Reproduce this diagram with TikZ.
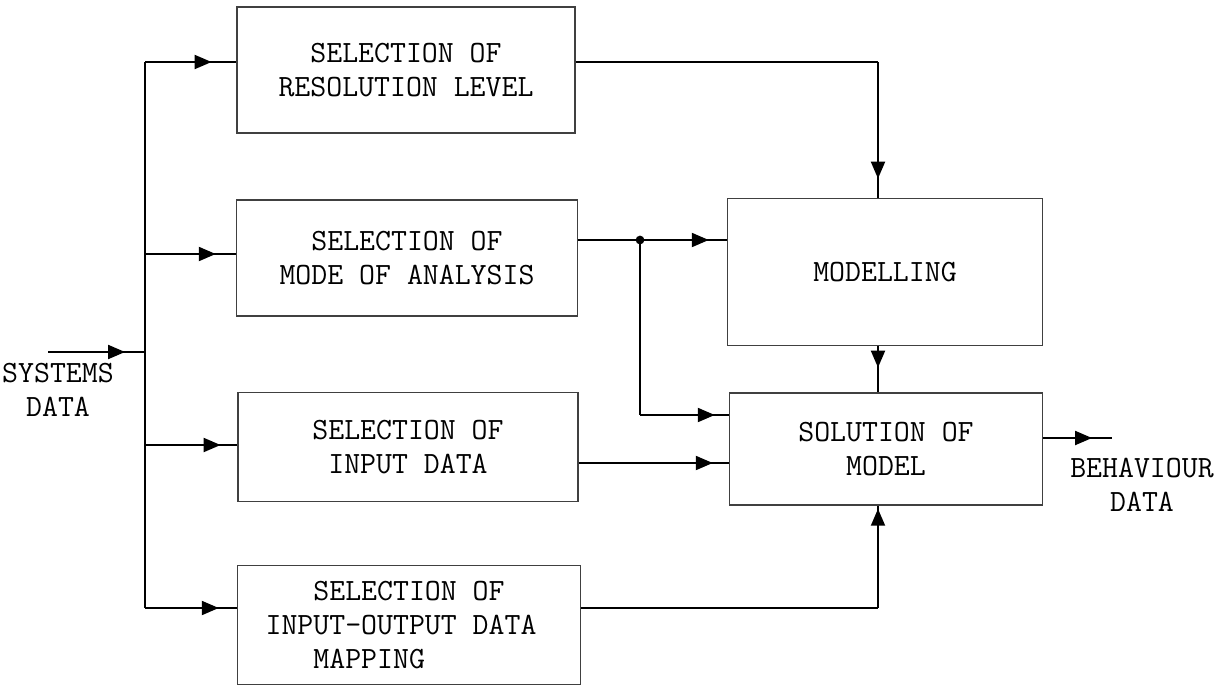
\documentclass[tikz,border=0pt]{standalone}
\usetikzlibrary{arrows.meta,decorations.markings}

\tikzset{
  block/.style={draw=black!75,line width=0.9pt,align=center},
  flow/.style={line width=1.2pt,postaction={decorate},
    decoration={markings,mark=at position #1 with
      {\arrow{Triangle[length=12pt,width=10pt]}}}},
  flow/.default=-0.5cm,
}

\begin{document}
\begin{tikzpicture}[x=0.025cm,y=-0.025cm,
    font=\ttfamily\fontsize{22}{24}\selectfont]
    \useasboundingbox (0,0) rectangle (1217,692);

    % selection blocks
    \node[block,minimum width=8.45cm,minimum height=3.15cm] (res) at (406,70)
      {SELECTION OF\\RESOLUTION LEVEL};
    \node[block,minimum width=8.53cm,minimum height=2.9cm] (mode) at (407,258)
      {SELECTION OF\\MODE OF ANALYSIS};
    \node[block,minimum width=8.5cm,minimum height=2.73cm] (inp) at (408,447)
      {SELECTION OF\\INPUT DATA};
    \node[block,minimum width=8.58cm,minimum height=2.98cm,align=left] (map) at (409,625)
      {\phantom{INP}SELECTION OF\\INPUT-OUTPUT DATA\phantom{X}\\\phantom{INP}MAPPING};

    % model blocks
    \node[block,minimum width=7.88cm,minimum height=3.68cm] (model) at (885,272)
      {MODELLING};
    \node[block,minimum width=7.83cm,minimum height=2.8cm] (solve) at (886,449)
      {SOLUTION OF\\MODEL};

    % in / out labels
    \node[align=center] (sys) at (58,390) {SYSTEMS\\DATA};
    \node[align=center] (beh) at (1142,485) {BEHAVIOUR\\DATA};

    \coordinate (in) at (48,352);
    \coordinate (bus0) at (145,352);
    \coordinate (bus1) at (145,62);
    \coordinate (bus2) at (145,254);
    \coordinate (bus3) at (145,445);
    \coordinate (bus4) at (145,608);
    \coordinate (c1) at (878,62);
    \coordinate (c4) at (878,608);
    \coordinate (dot) at (640,240);
    \coordinate (out) at (1112,438);

    % input bus
    \draw[flow] (in) -- (bus0);
    \draw[line width=1.2pt] (bus1) -- (bus4);
    \draw[flow=-0.62cm] (bus1) -- (bus1 -| res.west);
    \draw[flow] (bus2) -- (bus2 -| mode.west);
    \draw[flow=-0.42cm] (bus3) -- (bus3 -| inp.west);
    \draw[flow=-0.45cm] (bus4) -- (bus4 -| map.west);

    % into the model
    \draw[line width=1.2pt] (res.east |- c1) -- (c1);
    \draw[flow=-0.48cm] (c1) -- (c1 |- model.north);
    \draw[line width=1.2pt] (mode.east |- dot) -- (dot);
    \draw[flow=-0.45cm] (dot) -- (dot -| model.west);
    \draw[line width=1.2pt] (dot) -- (dot |- 0,415);
    \draw[flow=-0.35cm] (dot |- 0,415) -- (solve.west |- 0,415);
    \draw[flow=-0.4cm] (inp.east |- 0,463) -- (solve.west |- 0,463);
    \draw[flow=-0.62cm] (model.south -| c1) -- (solve.north -| c1);
    \draw[line width=1.2pt] (map.east |- c4) -- (c4);
    \draw[flow=-0.08cm] (c4) -- (c4 |- solve.south);
    \node[circle,fill,inner sep=2.2pt] at (dot) {};

    % output
    \draw[flow] (solve.east |- out) -- (out);
  \end{tikzpicture}
\end{document}
